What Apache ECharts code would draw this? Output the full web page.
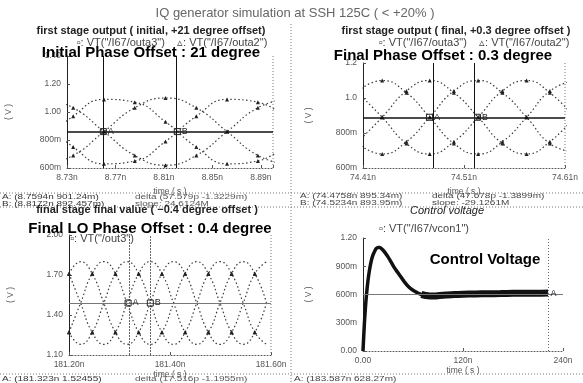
<!DOCTYPE html>
<html>
<head>
<meta charset="utf-8">
<script src="https://cdn.jsdelivr.net/npm/echarts@6/dist/echarts.min.js"></script>
<style>
html,body{margin:0;padding:0;background:#fff;}
#main{width:583px;height:383px;}
</style>
</head>
<body>
<div id="main"></div>
<script>
// panel 1 : first stage output, initial (time ns, volts)
var p1Time   = [8.7097, 8.7351, 8.7605, 8.7859, 8.8113, 8.8367, 8.8621, 8.8875, 8.9129];
var p1Outa3p = [0.62, 0.69, 0.86, 1.03, 1.10, 1.03, 0.86, 0.69, 0.62];
var p1Outa3n = [1.10, 1.03, 0.86, 0.69, 0.62, 0.69, 0.86, 1.03, 1.10];
var p1Outa2p = [0.94, 0.75, 0.63, 0.65, 0.79, 0.97, 1.09, 1.07, 0.94];
var p1Outa2n = [0.78, 0.97, 1.09, 1.07, 0.93, 0.75, 0.63, 0.65, 0.79];
var p1XTicks = ['8.73n', '8.77n', '8.81n', '8.85n', '8.89n'];
var p1YTicks = ['600m', '800m', '1.00', '1.20', '1.40'];
var p1Cursor = [8.760, 8.821];
var p1Level  = 0.86;

// panel 2 : first stage output, final
var p2Time   = [74.405, 74.429, 74.453, 74.476, 74.500, 74.524, 74.548, 74.572, 74.595, 74.619];
var p2Outa3p = [0.74, 0.68, 0.75, 0.89, 1.04, 1.10, 1.03, 0.89, 0.74, 0.69];
var p2Outa3n = [1.04, 1.10, 1.03, 0.89, 0.74, 0.68, 0.75, 0.89, 1.04, 1.10];
var p2Outa2p = [1.03, 0.89, 0.74, 0.68, 0.75, 0.89, 1.04, 1.10, 1.03, 0.89];
var p2Outa2n = [0.75, 0.89, 1.04, 1.10, 1.03, 0.89, 0.74, 0.68, 0.75, 0.89];
var p2XTicks = ['74.41n', '74.51n', '74.61n'];
var p2YTicks = ['600m', '800m', '1.0', '1.2'];
var p2Cursor = [74.4758, 74.5234];
var p2Level  = 0.89;

// panel 3 : final stage final value
var p3Time = [181.200, 181.223, 181.246, 181.269, 181.292, 181.315, 181.338, 181.361, 181.384,
              181.407, 181.430, 181.453, 181.476, 181.499, 181.522, 181.545, 181.568, 181.591];
var p3Ip = [1.71, 1.49, 1.27, 1.18, 1.27, 1.49, 1.71, 1.80, 1.71, 1.49, 1.27, 1.18, 1.27, 1.49, 1.71, 1.80, 1.71, 1.49];
var p3In = [1.27, 1.49, 1.71, 1.80, 1.71, 1.49, 1.27, 1.18, 1.27, 1.49, 1.71, 1.80, 1.71, 1.49, 1.27, 1.18, 1.27, 1.49];
var p3Qp = [1.71, 1.80, 1.71, 1.49, 1.27, 1.18, 1.27, 1.49, 1.71, 1.80, 1.71, 1.49, 1.27, 1.18, 1.27, 1.49, 1.71, 1.80];
var p3Qn = [1.27, 1.18, 1.27, 1.49, 1.71, 1.80, 1.71, 1.49, 1.27, 1.18, 1.27, 1.49, 1.71, 1.80, 1.71, 1.49, 1.27, 1.18];
var p3XTicks = ['181.20n', '181.40n', '181.60n'];
var p3YTicks = ['1.10', '1.40', '1.70', '2.00'];
var p3Cursor = [181.317, 181.361];
var p3Level  = 1.49;

// panel 4 : control voltage
var p4Time = [0, 1, 2, 3, 4, 6, 8, 10, 12, 14, 16, 18, 20, 23, 26, 30, 34, 38, 42, 46, 50, 55, 60,
              65, 70, 75, 80, 86, 92, 100, 110, 120, 135, 150, 165, 180, 195, 210, 222];
var p4Vcon = [0.0, 0.18, 0.34, 0.47, 0.58, 0.75, 0.87, 0.96, 1.02, 1.06, 1.09, 1.10, 1.10, 1.08,
              1.05, 1.00, 0.94, 0.88, 0.83, 0.78, 0.73, 0.68, 0.645, 0.62, 0.60, 0.59, 0.585, 0.585,
              0.59, 0.595, 0.60, 0.603, 0.606, 0.608, 0.61, 0.612, 0.613, 0.614, 0.615];
var p4XTicks = ['0.00', '120n', '240n'];
var p4YTicks = ['0.00', '300m', '600m', '900m', '1.20'];
var p4End   = 222;
var p4Level = 0.6;

// axis origins (axes count from 0 so the ticks land on the labelled times)
var T0 = [8.73, 74.41, 181.2, 0];
var V0 = [0, 0, 1.1, 0];

function pts(ts, vs, g) {
  return ts.map(function (t, i) { return [t - T0[g], vs[i] - V0[g]]; });
}

var FONT = 'Liberation Sans, Arial, sans-serif';
var ink = '#222';

function wave(g, ts, vs, extra) {
  var s = {
    type: 'line', xAxisIndex: g, yAxisIndex: g,
    data: pts(ts, vs, g), smooth: 0.5,
    symbol: 'triangle', showSymbol: true,
    symbolSize: g === 2 ? function (v, p) { return p.dataIndex % 2 ? 0 : 4; } : 4,
    lineStyle: { color: '#3a3a3a', width: 1.2, type: [1.5, 2.5] },
    itemStyle: { color: ink }, z: 3
  };
  if (extra) Object.assign(s, extra);
  return s;
}

function cursors(g, cur, level, dark) {
  var vcol = dark ? '#111' : '#666';
  return {
    markLine: {
      silent: true, symbol: 'none', label: { show: false }, animation: false,
      data: [
        { xAxis: cur[0] - T0[g], lineStyle: { color: vcol, width: 1, type: dark ? 'solid' : [2, 1] } },
        { xAxis: cur[1] - T0[g], lineStyle: { color: vcol, width: 1, type: dark ? 'solid' : [2, 1] } },
        { yAxis: level - V0[g], lineStyle: { color: dark ? '#111' : '#777', width: dark ? 1.5 : 1, type: 'solid' } }
      ]
    },
    markPoint: {
      silent: true, symbol: 'rect', symbolSize: 6, animation: false,
      itemStyle: { color: 'rgba(0,0,0,0)', borderColor: ink, borderWidth: 1 },
      label: { show: true, position: 'right', distance: 1, formatter: '{b}', fontSize: 9, color: ink, fontFamily: FONT },
      data: [
        { name: 'A', coord: [cur[0] - T0[g], level - V0[g]] },
        { name: 'B', coord: [cur[1] - T0[g], level - V0[g]] }
      ]
    }
  };
}

var grids = [
  { left: 67, top: 56, width: 206, height: 112 },
  { left: 363, top: 63, width: 202, height: 105 },
  { left: 69, top: 235, width: 202, height: 120 },
  { left: 363, top: 238, width: 200, height: 113 }
];
var xSpec = [
  { max: 0.17, interval: 0.04, labels: p1XTicks },
  { max: 0.2, interval: 0.1, labels: p2XTicks },
  { max: 0.4, interval: 0.2, labels: p3XTicks },
  { max: 240, interval: 120, labels: p4XTicks }
];
var ySpec = [
  { min: 0.6, max: 1.4, interval: 0.2, labels: p1YTicks },
  { min: 0.6, max: 1.2, interval: 0.2, labels: p2YTicks },
  { min: 0, max: 0.9, interval: 0.3, labels: p3YTicks },
  { min: 0, max: 1.2, interval: 0.3, labels: p4YTicks }
];

var labelStyle = { fontSize: 8.5, color: '#555', fontFamily: FONT };

var xAxes = xSpec.map(function (s, g) {
  return {
    type: 'value', gridIndex: g, min: 0, max: s.max, interval: s.interval,
    name: 'time ( s )', nameLocation: 'middle', nameGap: g < 2 ? 19 : 15,
    nameTextStyle: { fontSize: 8.5, color: '#555', fontFamily: FONT },
    axisLine: { show: true, onZero: false, lineStyle: { color: '#555', width: 1, type: [1, 2] } },
    axisTick: { show: true, inside: true, length: 3, lineStyle: { color: '#555' } },
    axisLabel: Object.assign({ margin: 5, formatter: function (v, i) { return s.labels[i] || ''; } }, labelStyle),
    splitLine: { show: false }
  };
});
var yAxes = ySpec.map(function (s, g) {
  return {
    type: 'value', gridIndex: g, min: s.min, max: s.max, interval: s.interval,
    name: '( V )', nameLocation: 'middle', nameGap: g % 2 ? 50 : 54,
    nameTextStyle: { fontSize: 8.5, color: '#555', fontFamily: FONT },
    axisLine: { show: true, lineStyle: { color: '#222', width: 1 } },
    axisTick: { show: true, inside: true, length: 3, lineStyle: { color: '#555' } },
    axisLabel: Object.assign({ margin: 6, formatter: function (v, i) { return s.labels[i] || ''; } }, labelStyle),
    splitLine: { show: false }
  };
});

var series = [
  wave(0, p1Time, p1Outa3p, cursors(0, p1Cursor, p1Level, true)),
  wave(0, p1Time, p1Outa3n),
  wave(0, p1Time, p1Outa2p),
  wave(0, p1Time, p1Outa2n),
  wave(1, p2Time, p2Outa3p, cursors(1, p2Cursor, p2Level, true)),
  wave(1, p2Time, p2Outa3n),
  wave(1, p2Time, p2Outa2p),
  wave(1, p2Time, p2Outa2n),
  wave(2, p3Time, p3Ip, cursors(2, p3Cursor, p3Level, false)),
  wave(2, p3Time, p3In),
  wave(2, p3Time, p3Qp),
  wave(2, p3Time, p3Qn),
  {
    type: 'line', xAxisIndex: 3, yAxisIndex: 3, data: pts(p4Time, p4Vcon, 3),
    smooth: 0.4, showSymbol: false, lineStyle: { color: '#111', width: 3.5 }, z: 3,
    markLine: {
      silent: true, symbol: 'none', label: { show: false }, animation: false,
      data: [
        { yAxis: p4Level, lineStyle: { color: '#777', width: 1, type: 'solid' } },
        { xAxis: p4End, lineStyle: { color: '#666', width: 1, type: [1, 2] } }
      ]
    },
    markPoint: {
      silent: true, symbol: 'rect', symbolSize: 1, animation: false,
      label: { show: true, position: 'right', distance: 2, formatter: 'A', fontSize: 9, color: ink, fontFamily: FONT },
      data: [{ coord: [p4Time[p4Time.length - 1], p4Vcon[p4Vcon.length - 1]] }]
    }
  },
  {
    // settled part carries the ripple band, drawn thicker
    type: 'line', xAxisIndex: 3, yAxisIndex: 3,
    data: pts(p4Time, p4Vcon, 3).filter(function (p) { return p[0] >= 68; }),
    smooth: 0.4, showSymbol: false, lineStyle: { color: '#111', width: 7 }, z: 3
  }
];

function txt(x, y, text, font, fill, align, extra) {
  var e = { type: 'text', x: x, y: y, z: 50,
    style: { text: text, font: font, fill: fill || ink, align: align || 'center', verticalAlign: 'middle' } };
  if (extra) Object.assign(e, extra);
  return e;
}
function dline(x1, y1, x2, y2) {
  return { type: 'line', z: 1, shape: { x1: x1, y1: y1, x2: x2, y2: y2 },
    style: { stroke: '#777', lineWidth: 1, lineDash: [1, 2] } };
}

var big = 'bold 15px ' + FONT;
var sub = 'bold 11px ' + FONT;
var leg = '11px ' + FONT;
var ann = '10px ' + FONT;
var squash = { scaleY: 0.72 };

var graphic = [
  txt(295, 13, 'IQ generator simulation at SSH 125C ( < +20% )', '13px ' + FONT, '#666'),
  // panel 1
  txt(151, 31, 'first stage output ( initial, +21 degree offset)', sub, '#222'),
  txt(172, 43, '\u25AB: VT("/I67/outa3")    \u25B5: VT("/I67/outa2")', leg, '#444'),
  txt(151, 53, 'Initial Phase Offset : 21 degree', big, '#000'),
  txt(2, 197, 'A: (8.7594n 901.24m)', ann, '#333', 'left', squash),
  txt(2, 204, 'B: (8.8172n 892.457m)', ann, '#333', 'left', squash),
  txt(135, 197, 'delta (57.579p -1.3229m)', ann, '#555', 'left', squash),
  txt(135, 204, 'slope: 24.6124M', ann, '#555', 'left', squash),
  // panel 2
  txt(456, 31, 'first stage output ( final, +0.3 degree offset )', sub, '#222'),
  txt(474, 43, '\u25AB: VT("/I67/outa3")    \u25B5: VT("/I67/outa2")', leg, '#444'),
  txt(443, 56, 'Final Phase Offset : 0.3 degree', big, '#000'),
  txt(300, 196, 'A: (74.4758n 895.34m)', ann, '#444', 'left', squash),
  txt(300, 203, 'B: (74.5234n 893.95m)', ann, '#444', 'left', squash),
  txt(432, 196, 'delta (47.678p -1.3899m)', ann, '#444', 'left', squash),
  txt(432, 203, 'slope: -29.1261M', ann, '#444', 'left', squash),
  // panel 3
  txt(147, 210, 'final stage final value ( \u22120.4 degree offset )', sub, '#222'),
  txt(150, 229, 'Final LO Phase Offset : 0.4 degree', big, '#000'),
  txt(102, 239, '\u25AB: VT("/out3")', leg, '#444'),
  txt(2, 379, 'A: (181.323n 1.52455)', ann, '#333', 'left', squash),
  txt(135, 379, 'delta (17.516p -1.1955m)', ann, '#555', 'left', squash),
  // panel 4
  txt(447, 211, 'Control voltage', 'italic 11px ' + FONT, '#222'),
  txt(424, 229, '\u25AB: VT("/I67/vcon1")', leg, '#444'),
  txt(485, 260, 'Control Voltage', big, '#000'),
  txt(294, 379, 'A: (183.587n 628.27m)', ann, '#444', 'left', squash),
  // frame lines
  dline(291, 24, 291, 383),
  dline(0, 193, 583, 193),
  dline(0, 207, 583, 207),
  dline(0, 374, 583, 374),
  dline(273, 56, 273, 168),
  dline(565, 63, 565, 168),
  dline(271, 235, 271, 355)
];

var chart = echarts.init(document.getElementById('main'), null, { renderer: 'canvas' });
chart.setOption({
  backgroundColor: '#fff',
  animation: false,
  grid: grids,
  xAxis: xAxes,
  yAxis: yAxes,
  series: series,
  graphic: graphic
});
</script>
</body>
</html>
